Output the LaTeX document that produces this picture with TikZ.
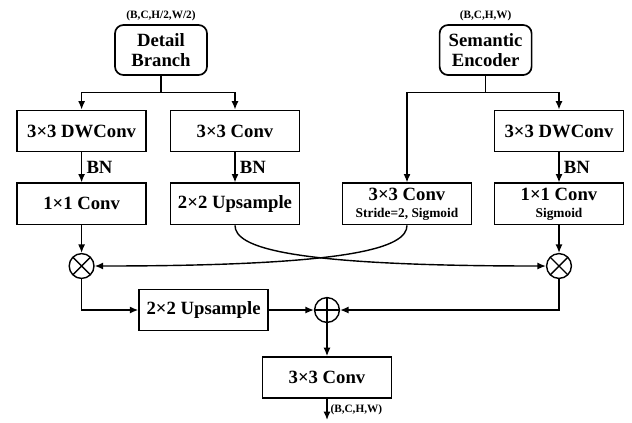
\documentclass[tikz,border=0pt]{standalone}
\usepackage{fontspec}
\setmainfont{Liberation Serif}
\usetikzlibrary{arrows.meta,positioning,calc}
\newcommand{\subtext}[1]{{\fontsize{9.5}{10}\selectfont\bfseries #1}}
\tikzset{
  opbox/.style={
    rectangle, draw, line width=1.2pt,
    minimum width=3.225cm, minimum height=1.03cm,
    font=\fontsize{13.3}{14}\selectfont\bfseries, align=center,
    inner sep=2pt
  },
  srcbox/.style={
    rectangle, rounded corners=6pt, draw, line width=1.2pt,
    minimum width=2.3cm, minimum height=1.25cm,
    font=\fontsize{13.3}{14.5}\selectfont\bfseries, align=center,
    inner sep=2pt
  },
  shapelabel/.style={
    font=\fontsize{8}{8.5}\selectfont\bfseries, inner sep=1pt
  },
  bnlabel/.style={
    font=\fontsize{13.3}{14}\selectfont\bfseries, inner sep=3pt
  },
  flow/.style={
    -{Latex[length=6pt,width=5pt]}, line width=1pt
  },
  mulnode/.style={
    circle, draw, line width=1pt, minimum size=0.62cm, inner sep=0pt,
    path picture={
      \draw[line width=1pt] (path picture bounding box.north west) -- (path picture bounding box.south east)
        (path picture bounding box.north east) -- (path picture bounding box.south west);}
  },
  addnode/.style={
    circle, draw, line width=1pt, minimum size=0.62cm, inner sep=0pt,
    path picture={
      \draw[line width=1pt] (path picture bounding box.north) -- (path picture bounding box.south)
        (path picture bounding box.east) -- (path picture bounding box.west);}
  },
}
\begin{document}
\begin{tikzpicture}
\useasboundingbox (0,0) rectangle (15.8,-10.55);
% inputs
\node[srcbox] (detail) at (4.025,-1.25) {Detail\\Branch};
\node[srcbox] (semantic) at (12.14,-1.25) {Semantic\\Encoder};
\node[shapelabel, above=1pt of detail] (detailshape) {(B,C,H/2,W/2)};
\node[shapelabel, above=1pt of semantic] (semshape) {(B,C,H,W)};
% detail branch
\node[opbox] (dwL) at (2.04,-3.275) {3×3 DWConv};
\node[opbox] (convL) at (5.875,-3.275) {3×3 Conv};
\node[opbox, below=0.75cm of dwL] (pwL) {1×1 Conv};
\node[opbox, below=0.75cm of convL] (upL) {2×2 Upsample};
% semantic branch
\node[opbox] (dwR) at (13.975,-3.275) {3×3 DWConv};
\node[opbox, below=0.75cm of dwR] (pwR) {1×1 Conv\\[-2pt]\subtext{Sigmoid}};
\node[opbox] (strideC) at (pwR -| 10.175,0) {3×3 Conv\\[-2pt]\subtext{Stride=2, Sigmoid}};
% fusion
\node[mulnode] (mulL) at (2.04,-6.65) {};
\node[mulnode] (mulR) at (13.975,-6.65) {};
\node[opbox] (upM) at (5.09,-7.75) {2×2 Upsample};
\node[addnode] (sum) at (8.175,-7.75) {};
\node[opbox] (convB) at (8.175,-9.44) {3×3 Conv};
\coordinate (dsplit) at ($(detail.south)+(0,-0.42)$);
\coordinate (ssplit) at ($(semantic.south)+(0,-0.42)$);
\coordinate (out) at (8.175,-10.5);

\draw[line width=1pt] (detail.south) -- (dsplit);
\draw[flow] (dsplit) -| (dwL.north);
\draw[flow] (dsplit) -| (convL.north);
\draw[line width=1pt] (semantic.south) -- (ssplit);
\draw[flow] (ssplit) -| (strideC.north);
\draw[flow] (ssplit) -| (dwR.north);
\draw[flow] (dwL) -- (pwL) node[midway, right, bnlabel] {BN};
\draw[flow] (convL) -- (upL) node[midway, right, bnlabel] {BN};
\draw[flow] (dwR) -- (pwR) node[midway, right, bnlabel] {BN};
\draw[flow] (pwL) -- (mulL);
\draw[flow] (pwR) -- (mulR);
\draw[flow] (upL.south) .. controls +(0,-0.55) and +(-6.5,0) .. (mulR.west);
\draw[flow] (strideC.south) .. controls +(0,-0.55) and +(6.5,0) .. (mulL.east);
\draw[flow] (mulL.south) |- (upM.west);
\draw[flow] (upM) -- (sum);
\draw[flow] (mulR.south) |- (sum.east);
\draw[flow] (sum) -- (convB);
\draw[flow] (convB) -- (out) node[midway, right, shapelabel, xshift=1pt] {(B,C,H,W)};
\end{tikzpicture}
\end{document}
